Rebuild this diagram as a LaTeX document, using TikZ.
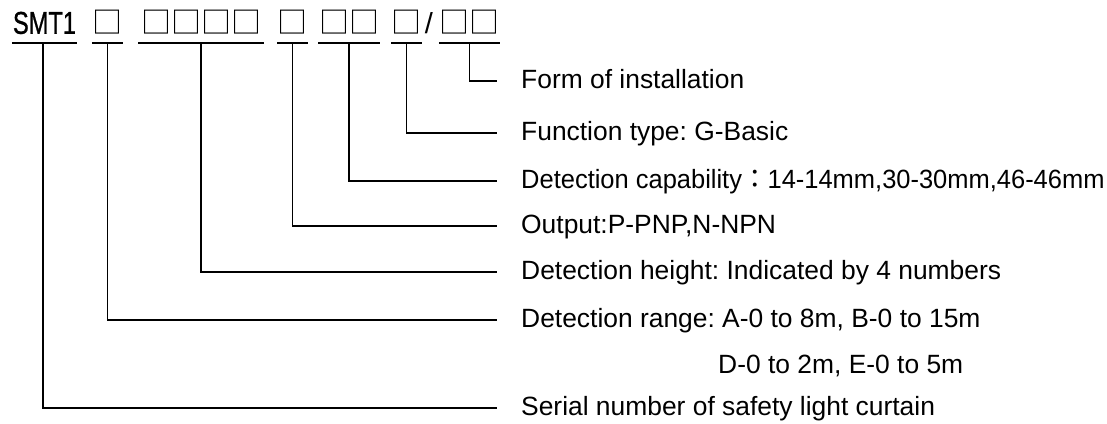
\documentclass[tikz,border=0pt]{standalone}
\usepackage{fontspec}
\setmainfont{Liberation Sans}
\newfontfamily\narrowfont[FakeBold=1]{Liberation Sans}
\newfontfamily\cjk{Noto Sans CJK SC}
\newfontfamily\cjktc{Noto Sans CJK TC}
\begin{document}
\frenchspacing
\begin{tikzpicture}[x=1pt,y=-1pt,
  head/.style={anchor=south, inner sep=0pt, text depth=9pt},
  boxes/.style={head, font=\cjk\fontsize{30}{31}\selectfont},
  uline/.style={line width=1.8pt},
  conn/.style={line width=1.8pt, shorten >=24pt},
  lab/.style={anchor=west, inner sep=0pt, text height=20pt, text depth=6pt,
    font=\fontsize{26.4}{30}\selectfont}]
\useasboundingbox (0,0) rectangle (1107,423);
% header
\node[head, minimum width=65pt] (g1) at (44.5,43) {\resizebox{63pt}{22pt}{\narrowfont SMT1}};
\node[boxes, minimum width=31pt] (g2) at (107.5,43) {□};
\node[boxes, minimum width=125pt] (g3) at (201,43) {□□□□};
\node[boxes, minimum width=29pt] (g4) at (292.5,43) {□};
\node[boxes, minimum width=61pt] (g5) at (349,43) {□□};
\node[boxes, minimum width=29pt] (g6) at (406.5,43) {□};
\node[head] (sl) at (429,43) {\resizebox{!}{21pt}{/}};
\node[boxes, minimum width=61pt] (g7) at (469.5,43) {□□};
\foreach \g in {g1,g2,g3,g4,g5,g6,g7}
  \draw[uline] (\g.south west) -- (\g.south east);
% labels
\node[lab] (l7) at (521,81) {Form of installation};
\node[lab] (l6) at (521,133) {Function type: G-Basic};
\node[lab] (l5) at (521,181) {\scalebox{0.965}[1]{Detection capability{\cjktc ：}14-14mm,30-30mm,46-46mm}};
\node[lab] (l4) at (521,226) {Output:P-PNP,N-NPN};
\node[lab] (l3) at (521,272) {Detection height: Indicated by 4 numbers};
\node[lab] (l2) at (521,320) {Detection range: A-0 to 8m, B-0 to 15m};
\node[lab] (l2b) at (718,366) {D-0 to 2m, E-0 to 5m};
\node[lab] (l1) at (521,408) {Serial number of safety light curtain};
% connectors
\draw[conn] (g7.south) |- (l7.west);
\draw[conn] (g6.south) |- (l6.west);
\draw[conn] (g5.south) |- (l5.west);
\draw[conn] (g4.south) |- (l4.west);
\draw[conn] (g3.south) |- (l3.west);
\draw[conn] (g2.south) |- (l2.west);
\draw[conn] ([xshift=-1.5pt]g1.south) |- (l1.west);
\end{tikzpicture}
\end{document}
